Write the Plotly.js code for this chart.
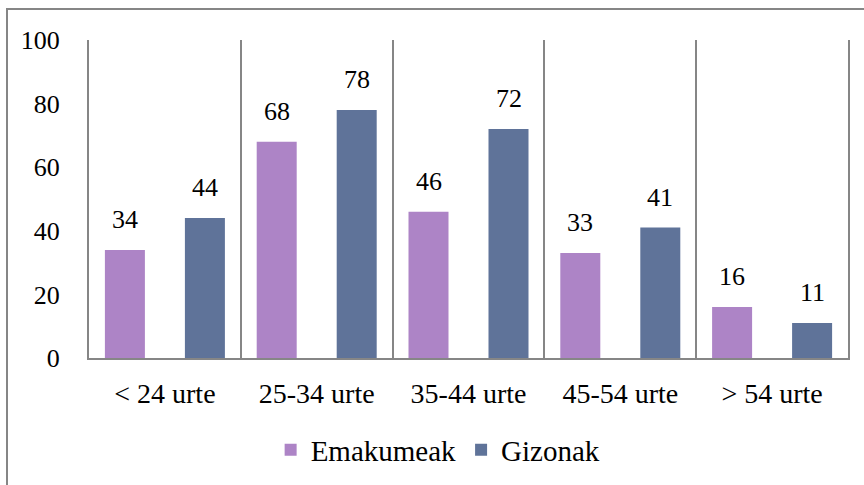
<!DOCTYPE html>
<html>
<head>
<meta charset="utf-8">
<script src="https://cdn.plot.ly/plotly-3.0.1.min.js"></script>
<style>html,body{margin:0;padding:0;background:#fff;}#chart{width:864px;height:485px;}</style>
</head>
<body>
<div id="chart"></div>
<script>
const categories = ['< 24 urte', '25-34 urte', '35-44 urte', '45-54 urte', '> 54 urte'];
const emakumeak = [34, 68, 46, 33, 16];
const gizonak = [44, 78, 72, 41, 11];
const seriesNames = ['Emakumeak', 'Gizonak'];
const colors = ['#AD84C6', '#5F7399'];

const FONT = 'Liberation Serif';
const catPx = (864 - 89 - 16) / 5;
const barW = 40 / catPx;

const traces = [
  {type: 'bar', name: seriesNames[0], x: categories, y: emakumeak,
   marker: {color: colors[0]}, width: barW, offset: -60 / catPx, hoverinfo: 'none'},
  {type: 'bar', name: seriesNames[1], x: categories, y: gizonak,
   marker: {color: colors[1]}, width: barW, offset: 20 / catPx, hoverinfo: 'none'}
];

const annotations = [];
[emakumeak, gizonak].forEach((arr, s) => {
  arr.forEach((v, i) => {
    annotations.push({x: categories[i], y: v, xref: 'x', yref: 'y', text: String(v),
      showarrow: false, yanchor: 'bottom', xshift: s === 0 ? -40 : 40, yshift: 14,
      font: {family: FONT, size: 26, color: '#000'}});
  });
});

const layout = {
  width: 864, height: 485,
  margin: {l: 89, r: 16, t: 40, b: 127},
  paper_bgcolor: '#fff', plot_bgcolor: '#fff',
  barmode: 'overlay',
  font: {family: FONT, size: 26, color: '#000'},
  xaxis: {type: 'category', tickson: 'boundaries', showgrid: true, gridcolor: '#868686', gridwidth: 2,
    showline: true, linecolor: '#868686', linewidth: 2, ticks: '', zeroline: false, ticklabelstandoff: 9,
    automargin: false, tickfont: {family: FONT, size: 28, color: '#000'}},
  yaxis: {range: [0, 100], tickvals: [0, 20, 40, 60, 80, 100], showgrid: false, zeroline: false,
    showline: true, mirror: true, linecolor: '#868686', linewidth: 2, ticks: '', ticklabelstandoff: 22,
    automargin: false, tickfont: {family: FONT, size: 26, color: '#000'}},
  showlegend: true,
  legend: {orientation: 'h', x: 0.46, xanchor: 'center', yref: 'container', y: 1 - 450 / 485, yanchor: 'middle',
    font: {family: FONT, size: 29, color: '#000'}, itemwidth: 30, traceorder: 'normal'},
  annotations: annotations,
  shapes: [{type: 'rect', xref: 'paper', yref: 'paper', x0: (7 - 89) / 759, x1: 1.2, y0: -0.5, y1: (358 - 9) / 318,
    line: {color: '#868686', width: 2}, fillcolor: 'rgba(0,0,0,0)', layer: 'below'}]
};

Plotly.newPlot('chart', traces, layout, {staticPlot: true, displayModeBar: false});
</script>
</body>
</html>
